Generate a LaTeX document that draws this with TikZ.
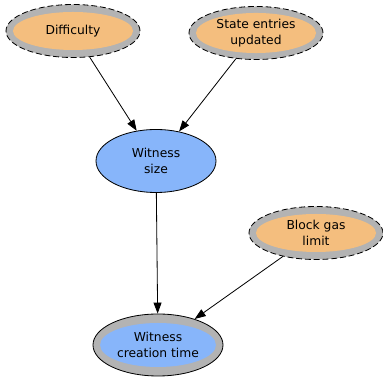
\documentclass[tikz,border=0pt]{standalone}
\usepackage{fontspec}
\setmainfont{DejaVu Sans}
\usetikzlibrary{shapes,arrows.meta,positioning}
\definecolor{ringgray}{HTML}{B3B3B3}
\definecolor{factor}{HTML}{F4BE7E}
\definecolor{metric}{HTML}{87B5FA}

\begin{document}
\begin{tikzpicture}[x=0.03cm, y=-0.03cm, line width=0.7pt, >={Triangle[length=3.3mm, width=2.4mm]},
    every node/.style={ellipse, inner sep=0pt, align=center, font=\fontsize{10.5}{14}\selectfont},
    ring/.style={draw, dash pattern=on 5pt off 2.5pt, fill=ringgray, minimum width=4.02cm, minimum height=1.59cm},
    core/.style={fill=factor, minimum width=3.6cm, minimum height=1.14cm}]
    \useasboundingbox (0,0) rectangle (383,377);

    % input factors
    \node [ring] (dif) at (73,31) {};
    \node [core] (difin) at (dif) {Difficulty};
    \node [ring] (ste) at (256,33) {};
    \node [core] (stein) at (ste) {State entries\\updated};
    \node [ring] (bgl) at (316,233) {};
    \node [core] (bglin) at (bgl) {Block gas\\limit};

    % witness
    \node [draw, fill=metric, minimum width=3.6cm, minimum height=1.89cm] (wsz) at (156,161) {Witness\\size};
    \node [draw, fill=ringgray, minimum width=3.9cm, minimum height=1.86cm] (wct) at (158,345) {};
    \node [fill=metric, minimum width=3.36cm, minimum height=1.32cm] (wctin) at (wct) {Witness\\creation time};

    \draw [->] (dif) -- (wsz);
    \draw [->] (ste) -- (wsz);
    \draw [->] (wsz) -- (wct);
    \draw [->] (bgl) -- (wct);
\end{tikzpicture}
\end{document}
